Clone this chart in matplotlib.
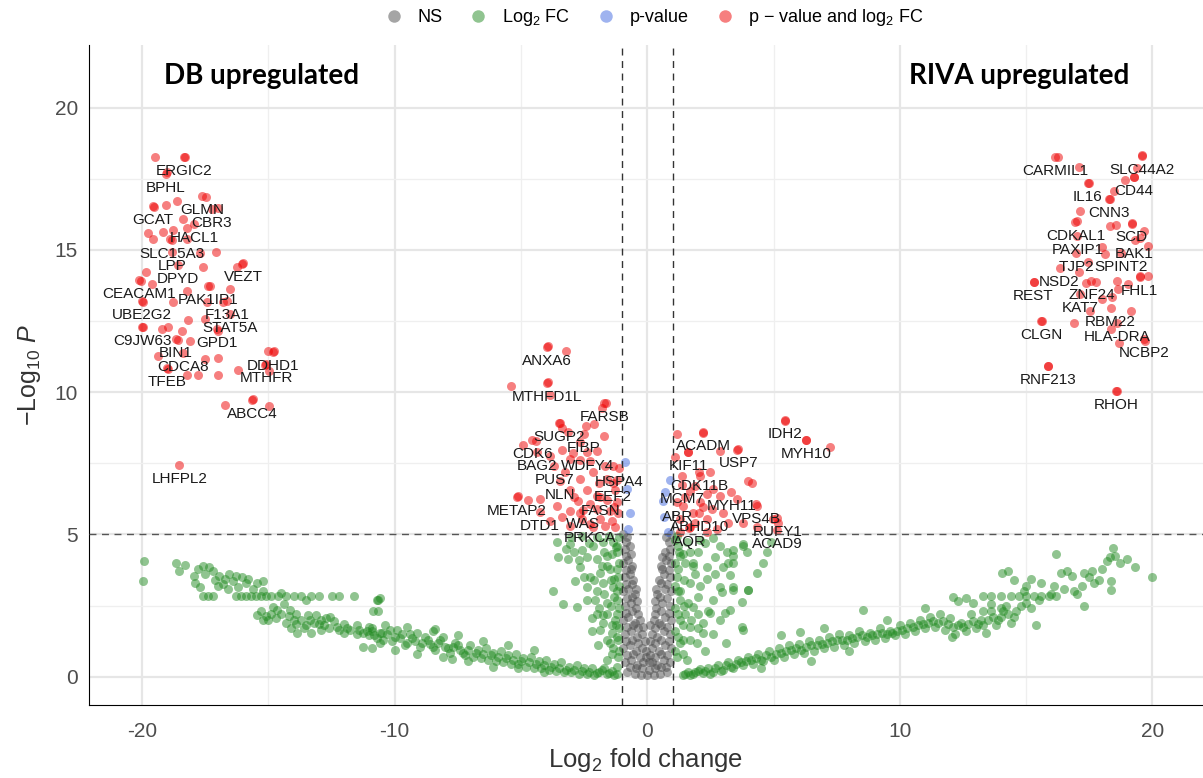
import numpy as np
import matplotlib
matplotlib.use("Agg")
import matplotlib.pyplot as plt
from matplotlib.lines import Line2D

plt.rcParams['font.family'] = ['Liberation Sans', 'DejaVu Sans']
plt.rcParams['mathtext.fontset'] = 'custom'
plt.rcParams['mathtext.rm'] = 'Liberation Sans'
plt.rcParams['mathtext.it'] = 'Liberation Sans:italic'
plt.rcParams['axes.unicode_minus'] = False

# --- labelled genes (log2FC, -log10 p) ---
label_genes = ["ERGIC2", "BPHL", "GLMN", "GCAT", "CBR3", "HACL1", "SLC15A3", "LPP", "DPYD",
               "VEZT", "CEACAM1", "PAK1IP1", "UBE2G2", "F13A1", "STAT5A", "C9JW63", "GPD1",
               "BIN1", "DDHD1", "CDCA8", "MTHFR", "TFEB", "ABCC4", "LHFPL2",
               "CARMIL1", "SLC44A2", "CD44", "IL16", "CNN3", "CDKAL1", "SCD", "PAXIP1", "BAK1",
               "TJP2", "SPINT2", "NSD2", "REST", "FHL1", "ZNF24", "KAT7", "RBM22", "CLGN",
               "HLA-DRA", "NCBP2", "RNF213", "RHOH",
               "ANXA6", "MTHFD1L", "FARSB", "SUGP2", "FIBP", "CDK6", "BAG2", "WDFY4", "PUS7",
               "HSPA4", "NLN", "EEF2", "METAP2", "FASN", "DTD1", "WAS", "PRKCA",
               "IDH2", "ACADM", "MYH10", "KIF11", "USP7", "CDK11B", "MCM7", "MYH11", "ABR",
               "VPS4B", "ABHD10", "RUFY1", "AQR", "ACAD9"]
label_x = [-18.34, -19.05, -17.62, -19.56, -17.23, -17.94, -18.81, -18.81, -18.57,
           -16.0, -20.12, -17.39, -20.0, -16.63, -16.51, -20.0, -17.03,
           -18.65, -14.81, -18.38, -15.09, -19.01, -15.64, -18.53,
           16.16, 19.6, 19.25, 17.43, 18.26, 16.95, 19.17, 17.03, 19.29,
           16.99, 18.77, 16.32, 15.29, 19.49, 17.58, 17.15, 18.34, 15.6,
           18.61, 19.68, 15.88, 18.57,
           -3.96, -3.96, -1.7, -3.49, -2.5, -4.55, -4.36, -2.38, -3.68,
           -1.11, -3.45, -1.35, -5.15, -1.86, -4.24, -2.53, -2.26,
           5.47, 2.22, 6.3, 1.62, 3.6, 2.06, 1.39, 3.33, 1.19,
           4.32, 2.06, 5.15, 1.66, 5.15]
label_y = [18.28, 17.68, 16.91, 16.56, 16.45, 15.92, 15.36, 14.94, 14.48,
           14.55, 13.95, 13.74, 13.21, 13.21, 12.75, 12.3, 12.23,
           11.87, 11.42, 11.38, 10.99, 10.85, 9.73, 7.44,
           18.28, 18.32, 17.58, 17.37, 16.8, 15.99, 15.96, 15.5, 15.36,
           14.9, 14.9, 14.37, 13.88, 14.06, 13.92, 13.46, 12.96, 12.5,
           12.44, 11.87, 10.92, 10.04,
           11.59, 10.32, 9.62, 8.92, 8.53, 8.32, 7.89, 7.89, 7.4,
           7.33, 6.87, 6.8, 6.31, 6.31, 5.78, 5.85, 5.36,
           9.02, 8.6, 8.32, 7.89, 8.0, 7.19, 6.73, 6.49, 6.13,
           6.06, 5.75, 5.57, 5.22, 5.15]

# --- other significant genes (p-value and log2 FC), unlabelled ---
red_points = [
    (-19.49, 18.27), (-18.30, 18.27), (-19.01, 17.75), (-18.61, 16.73), (-19.05, 16.58),
    (-19.52, 16.51), (-17.47, 16.87), (-16.99, 16.48), (-18.38, 16.09), (-19.17, 15.63),
    (-18.77, 15.70), (-18.22, 15.77), (-19.76, 15.6), (-19.56, 15.39), (-18.89, 15.39),
    (-18.22, 15.39), (-17.07, 14.93), (-17.7, 14.89), (-16.04, 14.51), (-16.24, 14.4),
    (-17.58, 14.4), (-19.84, 14.23), (-20.04, 13.91), (-19.6, 13.8), (-17.31, 13.73),
    (-16.51, 13.63), (-18.22, 13.56), (-19.96, 13.17), (-18.77, 13.17), (-17.43, 13.17),
    (-16.79, 13.17), (-19.96, 12.29), (-19.21, 12.22), (-18.97, 12.29), (-18.18, 12.54),
    (-18.42, 12.15), (-17.5, 12.57), (-16.99, 12.15), (-18.57, 11.83), (-18.1, 11.8),
    (-19.37, 11.27), (-18.97, 10.81), (-18.22, 10.6), (-17.78, 10.6), (-17.5, 11.16),
    (-16.99, 11.2), (-16.99, 10.6), (-16.2, 10.77), (-15.01, 11.44), (-14.77, 11.44),
    (-15.13, 10.95), (-14.97, 10.74), (-16.71, 9.54), (-15.6, 9.75), (-14.97, 9.51),
    (16.24, 18.27), (19.6, 18.35), (17.11, 17.92), (19.37, 17.89), (18.93, 17.46),
    (19.25, 17.57), (17.47, 17.36), (18.46, 17.08), (18.3, 16.8), (17.15, 16.37),
    (17.03, 16.02), (18.3, 15.85), (18.57, 15.88), (19.17, 15.92), (19.68, 15.67),
    (19.52, 15.42), (19.84, 15.14), (18.02, 15.1), (18.14, 14.86), (17.43, 14.58),
    (17.11, 14.23), (15.29, 13.87), (17.35, 13.84), (17.78, 13.87), (18.61, 13.91),
    (19.05, 13.8), (19.52, 14.08), (19.84, 14.08), (18.65, 13.63), (18.38, 13.35),
    (18.02, 13.27), (15.64, 12.5), (16.91, 12.43), (17.54, 12.85), (19.13, 12.85),
    (18.34, 12.22), (18.69, 11.73), (19.72, 11.8), (15.88, 10.92), (18.61, 10.04),
    (-3.92, 11.62), (-3.21, 11.44), (-3.92, 10.35), (-5.39, 10.21), (-3.84, 9.89),
    (-1.62, 9.61), (-1.78, 9.44), (-3.45, 8.91), (-3.37, 8.73), (-2.42, 8.8),
    (-2.1, 8.87), (-3.13, 8.59), (-1.7, 8.45), (-4.4, 8.27), (-4.91, 8.13),
    (-2.65, 8.24), (-3.37, 7.96), (-2.93, 7.85), (-1.98, 7.92), (-3.05, 7.64),
    (-2.65, 7.61), (-2.26, 7.57), (-3.84, 7.75), (-1.66, 7.39), (-1.35, 7.39),
    (-3.25, 7.18), (-2.14, 7.18), (-2.65, 6.94), (-1.58, 6.94), (-1.27, 6.58),
    (-3.05, 6.58), (-2.38, 6.58), (-1.98, 6.34), (-5.11, 6.34), (-4.71, 6.2),
    (-4.24, 6.23), (-2.73, 6.16), (-1.19, 6.13), (-3.56, 5.99), (-2.26, 6.06),
    (-3.05, 5.81), (-2.65, 5.77), (-1.47, 5.81), (-1.15, 5.77), (-3.37, 5.6),
    (-2.57, 5.53), (-1.86, 5.53), (-1.39, 5.46), (-3.05, 5.28), (-2.14, 5.25),
    (-1.66, 5.28), (-1.27, 5.25), (-3.84, 5.46), (-1.2, 6.9), (-1.9, 6.8),
    (-2.9, 6.3), (-1.6, 6.2), (-1.3, 5.95), (-2.0, 5.9),
    (5.47, 8.98), (6.3, 8.31), (7.25, 8.06), (1.19, 8.52), (2.22, 8.56),
    (1.11, 7.71), (1.62, 7.89), (2.89, 7.92), (3.56, 7.96), (2.5, 7.18),
    (2.1, 7.04), (1.39, 7.04), (4.0, 6.87), (4.16, 6.8), (1.7, 6.51),
    (2.38, 6.41), (2.89, 6.34), (3.56, 6.23), (2.1, 6.13), (1.43, 5.99),
    (4.36, 5.99), (2.57, 5.88), (3.01, 5.77), (1.82, 5.77), (1.31, 5.53),
    (2.38, 5.53), (3.21, 5.42), (3.8, 5.42), (4.99, 5.53), (5.19, 5.42),
    (1.7, 5.25), (2.77, 5.18), (4.36, 5.25), (1.31, 5.1), (2.38, 5.07),
    (1.9, 6.7), (2.6, 6.6), (1.5, 6.3), (2.2, 5.95), (1.9, 5.4)]

# --- p-value only ---
blue_points = [(-0.87, 7.54), (-0.67, 5.77), (-0.75, 5.18), (-0.8, 6.6),
               (0.71, 6.48), (0.63, 6.16), (0.67, 5.63), (0.83, 5.1), (0.9, 6.9)]

# --- log2 FC only ---
green_points = [
    (-19.92, 4.05), (-19.96, 3.38), (-18.65, 3.98), (-18.53, 3.7), (-18.3, 3.94),
    (-17.95, 3.55), (-17.9, 3.3), (-17.8, 3.8), (-17.6, 3.9), (-17.5, 3.6), (-17.35, 3.85),
    (-17.2, 3.7), (-17.1, 3.4), (-16.95, 3.55), (-16.8, 3.25), (-16.7, 3.45), (-16.55, 3.6),
    (-16.4, 3.35), (-16.3, 3.55), (-16.2, 3.15), (-16.05, 3.5), (-15.9, 3.3), (-15.8, 3.45),
    (-15.6, 3.1), (-15.45, 3.3), (-15.2, 3.35), (-17.7, 3.15), (-17.0, 3.2), (-16.6, 3.1),
    (-17.6, 2.82), (-17.4, 2.82), (-17.2, 2.82), (-16.3, 2.82), (-16.1, 2.82), (-15.9, 2.82),
    (-15.7, 2.82), (-15.5, 2.82), (-15.3, 2.82), (-15.1, 2.82), (-14.9, 2.82), (-14.6, 2.82),
    (-14.3, 2.82), (-14.0, 2.82), (-13.7, 2.82), (-13.3, 2.82), (-13.0, 2.82), (-12.5, 2.82),
    (-12.2, 2.82), (-11.6, 2.82), (-14.5, 2.95), (-15.2, 3.0), (-13.5, 2.7),
    (-15.45, 2.18), (-15.2, 2.0), (-15.0, 1.98), (-14.65, 2.36), (-14.4, 2.54), (-14.15, 2.36),
    (-14.0, 2.0), (-14.1, 1.72), (-13.85, 1.55), (-13.45, 2.18), (-13.35, 2.0), (-13.1, 2.18),
    (-12.9, 2.0), (-12.55, 2.1), (-12.3, 1.76), (-12.0, 1.85), (-11.75, 1.65), (-11.5, 1.8),
    (-11.25, 1.55), (-10.9, 1.7), (-10.6, 1.55), (-10.45, 1.3), (-10.65, 2.3), (-10.65, 2.71),
    (-11.25, 1.06), (-13.3, 1.55), (-12.9, 1.65), (-13.6, 1.7), (-14.2, 2.15), (-14.8, 2.45),
    (-13.0, 1.85), (-12.6, 1.7), (-12.0, 1.55), (-11.5, 1.5), (-11.0, 1.45),
    (-15.3, 2.3), (-15.1, 2.15), (-14.9, 2.2), (-14.7, 2.05), (-14.5, 2.2), (-14.3, 1.9),
    (-13.9, 1.85), (-13.7, 2.0), (-13.5, 1.8), (-13.2, 1.9), (-12.8, 1.8), (-12.4, 1.95),
    (-12.2, 1.65), (-11.9, 1.7), (-11.4, 1.65), (-11.1, 1.6), (-12.7, 2.05), (-13.9, 2.2),
    (-10.7, 2.71), (-10.57, 2.78), (-10.85, 2.32), (-8.4, 1.69), (-3.72, 3.03), (-3.33, 2.57),
    (-7.72, 0.63),
    (-11.0, 1.75), (-10.8, 1.45), (-10.6, 1.2), (-10.4, 1.8), (-10.3, 1.5), (-10.1, 1.25),
    (-9.9, 1.65), (-9.8, 1.35), (-9.6, 1.1), (-9.4, 1.5), (-9.2, 1.25), (-9.0, 1.05),
    (-8.8, 1.4), (-8.6, 1.15), (-8.4, 0.95), (-8.2, 1.3), (-8.0, 1.05), (-7.8, 0.85),
    (-7.6, 1.2), (-7.4, 0.95), (-7.2, 0.75), (-7.0, 1.1), (-6.8, 0.85), (-6.6, 0.65),
    (-6.4, 1.0), (-6.2, 0.75), (-6.0, 0.55), (-5.8, 0.9), (-5.6, 0.65), (-5.4, 0.45),
    (-5.2, 0.8), (-5.0, 0.55), (-4.8, 0.35), (-4.6, 0.7), (-4.4, 0.45), (-4.2, 0.3),
    (-4.0, 0.6), (-3.8, 0.35), (-3.6, 0.2), (-3.4, 0.5), (-3.2, 0.25), (-3.0, 0.15),
    (-2.8, 0.4), (-2.6, 0.2), (-2.4, 0.1), (-2.2, 0.3), (-2.0, 0.12), (-1.8, 0.25),
    (-1.6, 0.08), (-1.4, 0.2), (-1.2, 0.1),
    (-10.9, 1.6), (-10.7, 1.35), (-10.5, 1.55), (-10.2, 1.65), (-10.0, 1.4), (-9.7, 1.5),
    (-9.5, 1.2), (-9.3, 1.35), (-9.1, 1.55), (-8.9, 1.2), (-8.7, 1.3), (-8.5, 1.05),
    (-8.3, 1.2), (-8.1, 1.4), (-7.9, 1.0), (-7.7, 1.05), (-7.5, 1.1), (-7.3, 0.85),
    (-7.1, 0.95), (-6.9, 0.7), (-6.7, 0.95), (-6.5, 0.8), (-6.3, 0.6), (-6.1, 0.85),
    (-5.9, 0.7), (-5.7, 0.5), (-5.5, 0.75), (-5.3, 0.6), (-5.1, 0.45), (-4.9, 0.65),
    (-4.7, 0.5), (-4.5, 0.3), (-4.3, 0.55), (-4.1, 0.4), (-3.9, 0.25), (-3.7, 0.45),
    (-3.5, 0.3), (-3.3, 0.15), (-3.1, 0.35), (-2.9, 0.25), (-2.7, 0.1), (-2.5, 0.3),
    (-2.3, 0.18), (-2.1, 0.05), (-1.9, 0.15), (-1.7, 0.3), (-1.5, 0.12), (-1.3, 0.05),
    (-10.9, 1.0), (-10.0, 0.95), (-9.1, 0.8), (-8.1, 0.7), (-7.1, 0.55), (-6.1, 0.35),
    (-5.1, 0.3), (-4.1, 0.15), (-9.5, 1.75), (-8.5, 1.6), (-7.5, 1.45), (-6.5, 1.25),
    (-5.5, 1.1), (-4.5, 0.95),
    (-3.56, 4.72), (-3.05, 4.65), (-2.57, 4.47), (-2.14, 4.58), (-1.74, 4.72), (-1.35, 4.72),
    (-3.52, 4.19), (-3.13, 4.12), (-2.65, 3.87), (-1.98, 4.12), (-1.58, 4.23), (-1.19, 4.37),
    (-2.26, 3.52), (-1.86, 3.66), (-1.47, 3.77), (-1.15, 3.52), (-2.85, 3.35), (-2.38, 3.17),
    (-1.74, 3.31), (-1.35, 3.17), (-2.77, 2.46), (-2.06, 2.71), (-1.58, 2.6), (-1.19, 2.71),
    (-2.18, 2.08), (-1.74, 2.18), (-1.27, 2.0), (-1.86, 1.65), (-1.39, 1.55), (-1.94, 1.13),
    (-1.47, 1.2), (-1.15, 1.3), (-1.15, 0.7), (-1.58, 0.6), (-1.19, 0.35),
    (-1.1, 4.9), (-1.1, 4.0), (-1.1, 3.2), (-1.1, 2.4), (-1.1, 1.7), (-1.1, 0.9),
    (-1.25, 4.55), (-1.3, 3.45), (-1.3, 2.8), (-1.25, 1.8), (-1.35, 1.0), (-1.5, 4.95),
    (-2.0, 4.9), (-2.6, 4.95), (-3.0, 4.9), (-2.4, 4.2), (-2.9, 4.4), (-2.5, 3.5),
    (-2.0, 3.0), (-1.6, 3.9), (-1.7, 2.9), (-1.9, 2.4), (-1.6, 1.3), (-2.2, 1.6), (-2.4, 2.7),
    (-1.2, 4.6), (-1.4, 4.3), (-1.2, 3.8), (-1.45, 3.4), (-1.2, 3.0), (-1.45, 2.5),
    (-1.2, 2.2), (-1.4, 1.8), (-1.2, 1.4), (-1.4, 0.8), (-1.7, 4.4), (-1.8, 3.9),
    (-1.75, 1.9), (-2.0, 2.2), (-2.3, 4.7), (-3.2, 4.5), (-2.7, 4.1), (-2.1, 3.4), (-1.6, 2.2),
    (1.19, 4.93), (1.58, 4.72), (2.1, 4.82), (2.61, 4.89), (2.89, 4.58), (3.41, 4.47),
    (3.96, 4.37), (1.31, 4.23), (1.82, 4.01), (2.38, 3.87), (3.01, 3.87), (3.41, 4.01),
    (1.19, 3.52), (1.7, 3.31), (2.38, 3.42), (2.89, 3.17), (3.41, 3.06), (4.0, 3.06),
    (1.31, 2.71), (1.82, 2.46), (2.61, 2.71), (3.29, 2.36), (2.5, 2.25), (1.31, 2.0),
    (1.7, 1.76), (2.22, 1.9), (2.89, 2.0), (3.76, 1.73), (1.43, 1.3), (1.98, 1.2),
    (2.22, 1.55), (1.19, 0.7), (1.58, 0.6),
    (3.8, 4.65), (3.41, 4.23), (4.59, 4.01), (4.36, 3.66), (3.29, 3.59), (3.41, 3.17),
    (4.0, 3.06), (3.76, 2.64), (3.09, 2.25), (3.8, 1.65), (2.97, 2.96), (4.75, 4.37),
    (3.8, 4.58), (3.17, 4.37), (4.9, 4.75),
    (1.1, 4.8), (1.1, 4.0), (1.1, 3.2), (1.1, 2.4), (1.1, 1.6), (1.1, 0.9), (1.25, 4.4),
    (1.3, 3.0), (1.3, 1.2), (1.5, 4.0), (1.5, 2.2), (1.9, 3.6), (2.0, 2.8), (2.4, 2.3),
    (1.7, 1.3), (2.0, 4.4), (2.7, 4.2), (2.3, 0.9),
    (1.2, 4.6), (1.4, 4.3), (1.2, 3.8), (1.45, 3.4), (1.2, 3.0), (1.45, 2.5), (1.2, 2.2),
    (1.4, 1.8), (1.2, 1.4), (1.4, 0.8), (1.7, 4.4), (1.8, 3.9), (1.75, 2.0), (2.0, 2.2),
    (2.3, 4.7), (3.2, 4.0), (2.7, 3.6), (2.1, 3.2), (1.6, 2.6), (2.6, 1.5), (3.1, 1.2),
    (2.0, 1.7),
    (1.4, 0.05), (1.6, 0.15), (1.8, 0.08), (2.0, 0.2), (2.2, 0.12), (2.4, 0.3), (2.6, 0.18),
    (2.8, 0.4), (3.0, 0.25), (3.2, 0.5), (3.4, 0.3), (3.6, 0.6), (3.8, 0.4), (4.0, 0.7),
    (4.2, 0.45), (4.4, 0.8), (4.6, 0.55), (4.8, 0.9), (5.0, 0.6), (5.2, 1.0), (5.4, 0.7),
    (5.6, 1.1), (5.8, 0.8), (6.0, 1.15), (6.2, 0.85), (6.4, 1.25), (6.6, 0.9), (6.8, 1.3),
    (7.0, 1.0), (7.2, 1.4), (7.4, 1.05), (7.6, 1.5), (7.8, 1.1), (8.0, 1.45), (8.2, 1.2),
    (8.4, 1.6), (8.6, 1.25), (8.8, 1.55), (9.0, 1.3), (9.2, 1.7), (9.4, 1.35), (9.6, 1.6),
    (9.8, 1.45), (10.0, 1.8), (10.2, 1.5), (10.4, 1.9), (10.6, 1.6), (10.8, 2.0), (11.0, 1.7),
    (11.2, 2.1), (11.4, 1.75), (11.6, 2.2), (11.8, 1.65), (12.0, 2.05), (12.2, 1.5),
    (12.4, 1.9), (12.6, 1.6), (12.8, 2.2), (13.0, 1.7), (13.2, 2.0), (13.4, 1.55),
    (13.6, 2.3), (13.8, 1.8), (14.0, 2.1), (14.2, 2.5), (14.4, 1.9), (14.6, 2.3),
    (1.5, 0.1), (1.7, 0.05), (1.9, 0.15), (2.1, 0.28), (2.3, 0.2), (2.5, 0.1), (2.7, 0.3),
    (2.9, 0.2), (3.1, 0.4), (3.3, 0.35), (3.5, 0.45), (3.7, 0.5), (3.9, 0.55), (4.1, 0.6),
    (4.3, 0.65), (4.5, 0.6), (4.7, 0.75), (4.9, 0.7), (5.1, 0.8), (5.3, 0.85), (5.5, 0.9),
    (5.7, 0.95), (5.9, 1.0), (6.1, 0.95), (6.3, 1.05), (6.5, 1.1), (6.7, 1.1), (6.9, 1.15),
    (7.1, 1.2), (7.3, 1.25), (7.5, 1.3), (7.7, 1.3), (7.9, 1.3), (8.1, 1.35), (8.3, 1.4),
    (8.5, 1.45), (8.7, 1.4), (8.9, 1.45), (9.1, 1.5), (9.3, 1.55), (9.5, 1.5), (9.7, 1.55),
    (9.9, 1.6), (10.1, 1.65), (10.3, 1.7), (10.5, 1.75), (10.7, 1.8), (10.9, 1.85),
    (11.1, 1.9), (11.3, 1.95), (11.5, 1.9), (11.7, 1.95), (11.9, 1.85), (12.1, 1.75),
    (12.3, 1.8), (12.5, 1.75), (12.7, 1.85), (12.9, 1.95), (13.1, 1.85), (13.3, 1.8),
    (13.5, 2.0), (13.7, 2.1), (13.9, 2.0), (14.1, 2.3), (14.3, 2.2), (14.5, 2.1),
    (14.8, 2.5), (15.2, 2.4), (15.5, 2.7), (16.0, 2.9), (16.5, 3.1), (17.2, 3.2),
    (17.6, 3.7), (18.0, 3.8), (18.7, 4.0),
    (8.55, 2.36), (6.06, 1.58), (5.3, 1.45), (7.0, 1.7), (9.5, 2.0), (11.0, 2.4),
    (12.3, 2.65), (6.5, 0.55), (8.0, 0.9), (4.5, 0.3),
    (13.3, 2.82), (13.6, 2.82), (14.0, 2.82), (14.4, 2.82), (14.7, 2.82), (15.0, 2.82),
    (15.3, 2.82), (15.6, 2.82), (15.9, 2.82), (16.2, 2.82), (12.1, 2.8), (12.6, 2.75),
    (14.06, 3.66), (14.3, 3.7), (14.5, 3.4), (15.0, 3.2), (15.2, 3.45), (15.6, 3.3),
    (16.36, 3.66), (16.6, 3.7), (16.8, 3.55), (17.27, 3.66), (17.5, 3.5), (17.7, 3.3),
    (17.9, 3.4), (16.1, 3.2), (16.9, 3.0), (17.0, 2.9), (18.42, 4.51), (18.3, 4.2),
    (18.5, 4.25), (18.2, 4.05), (19.0, 4.15), (19.29, 3.84), (20.0, 3.52), (16.2, 4.33),
    (18.34, 3.06), (18.34, 3.35), (17.27, 2.5), (15.37, 1.8), (12.08, 1.41), (15.0, 2.6),
    (14.0, 2.4), (13.6, 2.55), (12.9, 2.6), (14.9, 3.0), (13.3, 2.3)]

# --- not significant ---
grey_points = [
    (-0.95, 5.0), (-0.8, 4.9), (-0.9, 4.5), (-0.7, 4.6), (-0.95, 4.0), (-0.75, 4.1),
    (-0.6, 3.9), (-0.9, 3.5), (-0.7, 3.6), (-0.55, 3.4), (-0.95, 3.0), (-0.75, 3.1),
    (-0.5, 2.9), (-0.9, 2.5), (-0.65, 2.6), (-0.45, 2.4), (-0.95, 2.0), (-0.75, 2.1),
    (-0.5, 1.9), (-0.3, 2.0), (-0.9, 1.5), (-0.65, 1.6), (-0.4, 1.4), (-0.2, 1.5),
    (-0.95, 1.0), (-0.7, 1.1), (-0.45, 0.9), (-0.2, 1.0), (-0.05, 0.9), (-0.9, 0.5),
    (-0.65, 0.6), (-0.4, 0.4), (-0.15, 0.5), (0.05, 0.5), (-0.8, 0.15), (-0.5, 0.1),
    (-0.25, 0.05), (0.0, 0.05), (0.25, 0.05), (0.5, 0.1), (0.8, 0.15),
    (0.95, 5.0), (0.75, 4.9), (0.9, 4.5), (0.7, 4.4), (0.95, 4.0), (0.75, 4.1),
    (0.55, 3.9), (0.9, 3.5), (0.65, 3.6), (0.45, 3.4), (0.95, 3.0), (0.7, 3.1),
    (0.4, 2.9), (0.9, 2.5), (0.6, 2.6), (0.35, 2.4), (0.95, 2.0), (0.7, 2.1),
    (0.45, 1.9), (0.25, 2.0), (0.9, 1.5), (0.65, 1.6), (0.4, 1.4), (0.2, 1.5),
    (0.95, 1.0), (0.7, 1.1), (0.45, 0.9), (0.2, 1.0), (0.9, 0.5), (0.65, 0.6),
    (0.4, 0.4), (0.2, 0.5),
    (-0.85, 4.75), (-0.85, 4.25), (-0.65, 4.3), (-0.85, 3.75), (-0.65, 3.8), (-0.85, 3.25),
    (-0.6, 3.25), (-0.45, 3.1), (-0.8, 2.75), (-0.6, 2.8), (-0.4, 2.65), (-0.85, 2.25),
    (-0.6, 2.3), (-0.35, 2.2), (-0.8, 1.75), (-0.55, 1.8), (-0.35, 1.7), (-0.15, 1.75),
    (-0.85, 1.25), (-0.6, 1.3), (-0.35, 1.2), (-0.1, 1.25), (-0.8, 0.75), (-0.55, 0.8),
    (-0.3, 0.7), (-0.05, 0.7), (0.1, 0.75), (-0.7, 0.35), (-0.45, 0.3), (-0.2, 0.3),
    (0.05, 0.25), (0.3, 0.3), (0.55, 0.35), (0.75, 0.35),
    (0.85, 4.75), (0.85, 4.25), (0.6, 4.2), (0.85, 3.75), (0.6, 3.8), (0.8, 3.25),
    (0.55, 3.3), (0.35, 3.1), (0.8, 2.75), (0.5, 2.8), (0.3, 2.65), (0.85, 2.25),
    (0.55, 2.3), (0.3, 2.2), (0.8, 1.75), (0.55, 1.8), (0.3, 1.7), (0.1, 1.8),
    (0.85, 1.25), (0.55, 1.3), (0.3, 1.2), (0.1, 1.25), (0.8, 0.75), (0.55, 0.8),
    (0.3, 0.7)]

col_ns, col_fc, col_p, col_both = "#4D4D4D", "#228B22", "#4169E1", "#EE0000"
fc_cutoff = 1.0
p_cutoff = 5.0

fig = plt.figure(figsize=(12.03, 7.78), dpi=100)
ax = fig.add_axes([0.074, 0.094, 0.926, 0.848])

pt = dict(s=42, alpha=0.5, linewidths=0)
g = np.array(grey_points)
ax.scatter(g[:, 0], g[:, 1], color=col_ns, **pt)
gr = np.array(green_points)
ax.scatter(gr[:, 0], gr[:, 1], color=col_fc, **pt)
b = np.array(blue_points)
ax.scatter(b[:, 0], b[:, 1], color=col_p, **pt)
r = np.array(red_points)
ax.scatter(r[:, 0], r[:, 1], color=col_both, **pt)
ax.scatter(label_x, label_y, color=col_both, **pt)

for name, x, y in zip(label_genes, label_x, label_y):
    ax.text(x, y - 0.5, name, ha="center", va="center", fontsize=11, color="#1a1a1a", zorder=5)

# cut-off lines
ax.axvline(-fc_cutoff, color="#333333", lw=1, ls=(0, (5, 4)), zorder=4)
ax.axvline(fc_cutoff, color="#333333", lw=1, ls=(0, (5, 4)), zorder=4)
ax.axhline(p_cutoff, color="#555555", lw=1, ls=(0, (5, 4)), zorder=4)

ax.text(-15.25, 21.1, "DB upregulated", ha="center", va="center", fontsize=20,
        fontweight="bold", family="Lato")
ax.text(14.73, 21.1, "RIVA upregulated", ha="center", va="center", fontsize=20,
        fontweight="bold", family="Lato")

ax.set_xlim(-22.1, 22.0)
ax.set_ylim(-0.99, 22.2)
ax.set_xticks([-20, -10, 0, 10, 20])
ax.set_yticks([0, 5, 10, 15, 20])
ax.set_xticks([-15, -5, 5, 15], minor=True)
ax.set_yticks([2.5, 7.5, 12.5, 17.5], minor=True)
ax.grid(which="major", color="#E6E6E6", lw=1.6)
ax.grid(which="minor", color="#EFEFEF", lw=0.9)
ax.set_axisbelow(True)
ax.tick_params(which="both", length=0, labelsize=15, labelcolor="#4D4D4D")
ax.tick_params(axis="x", pad=12)
ax.tick_params(axis="y", pad=8)
for side in ["top", "right"]:
    ax.spines[side].set_visible(False)
ax.spines["left"].set_color("black")
ax.spines["bottom"].set_color("black")

ax.set_xlabel("Log$_2$ fold change", fontsize=18.5, color="#333333", labelpad=4)
ax.set_ylabel("$-$Log$_{10}$ $\\it{P}$", fontsize=18, color="#333333", labelpad=8)

handles = [Line2D([], [], marker="o", ls="", color=c, alpha=0.5, markersize=9, markeredgewidth=0)
           for c in [col_ns, col_fc, col_p, col_both]]
labels = ["NS", "Log$_2$ FC", "p-value", "p $-$ value and log$_2$ FC"]
fig.legend(handles, labels, loc="center", bbox_to_anchor=(0.54, 0.977), ncol=4, frameon=False,
           fontsize=13, handletextpad=0.3, columnspacing=1.0)

fig.savefig("out.png", dpi=100)
